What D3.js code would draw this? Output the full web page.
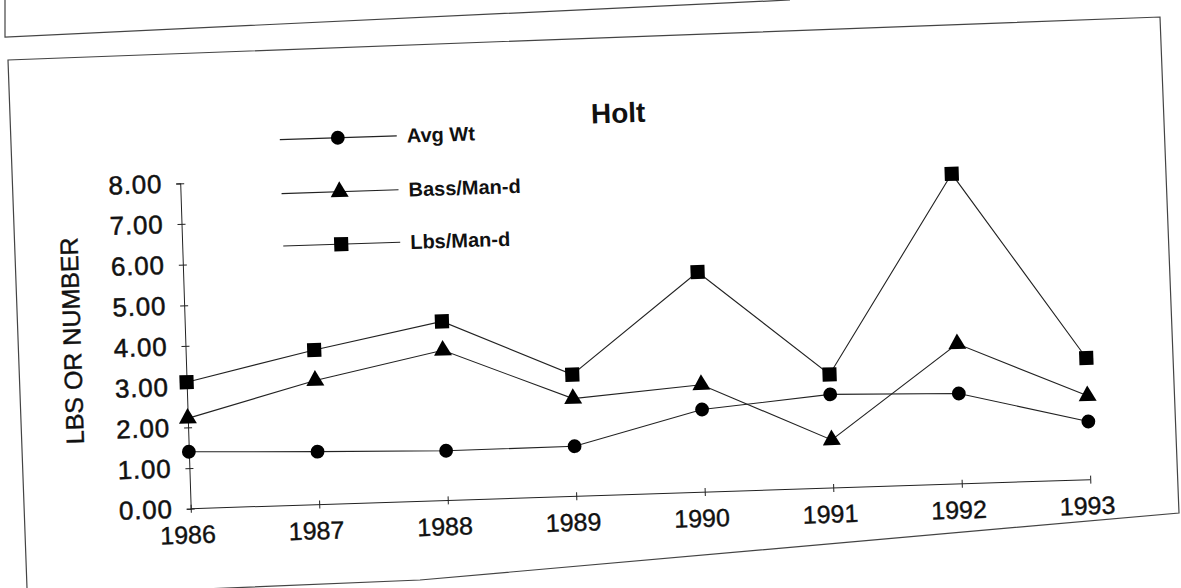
<!DOCTYPE html>
<html>
<head>
<meta charset="utf-8">
<script src="https://cdn.jsdelivr.net/npm/d3@7"></script>
<style>
  body { margin: 0; background: #fff; }
  text { font-family: "Liberation Sans", Arial, sans-serif; fill: #111; }
</style>
</head>
<body>
<div id="chart"></div>
<script>
// Data.
const years = [1986, 1987, 1988, 1989, 1990, 1991, 1992, 1993];
const avgWt = [1.40, 1.30, 1.22, 1.23, 2.03, 2.30, 2.22, 1.43];
const bassManD = [2.22, 3.05, 3.69, 2.40, 2.64, 1.18, 3.44, 2.06];
const lbsManD = [3.11, 3.80, 4.40, 2.99, 5.41, 2.79, 7.62, 2.99];
const yTicks = [0, 1, 2, 3, 4, 5, 6, 7, 8];
const seriesNames = ["Avg Wt", "Bass/Man-d", "Lbs/Man-d"];
const seriesShapes = [d3.symbolCircle, d3.symbolTriangle, d3.symbolSquare];
const seriesSizes = [150, 140, 200];

const width = 1181;
const height = 588;

const svg = d3.select("#chart")
  .append("svg")
  .attr("width", width)
  .attr("height", height);

// Page frames (the scan is slightly skewed).
svg.append("path")
  .attr("d", "M5,0 L5,37 L790,0")
  .attr("fill", "none").attr("stroke", "#444").attr("stroke-width", 1.2);
svg.append("path")
  .attr("d", "M27,588 L8,60 L1160,17 L1179,513 L420,580 L180,590")
  .attr("fill", "none").attr("stroke", "#444").attr("stroke-width", 1.2);

// Chart group, origin at the axis corner, rotated like the scan.
const g = svg.append("g")
  .attr("transform", "translate(190.7,508.7) rotate(-1.85)");

const x = d3.scalePoint()
  .domain(years)
  .range([0, 900]);

const y = d3.scaleLinear()
  .domain([0, 8])
  .range([0, -325.6]);

// Title.
g.append("text")
  .attr("x", 440)
  .attr("y", -372)
  .attr("text-anchor", "middle")
  .style("font-size", "28px")
  .style("font-weight", "bold")
  .text("Holt");

// Y axis.
const yAxis = g.append("g")
  .call(d3.axisLeft(y).tickValues(yTicks).tickSize(4).tickPadding(14)
    .tickFormat(d3.format(".2f")));
yAxis.select(".domain").attr("stroke", "#222");
yAxis.selectAll(".tick line").attr("x1", 4).attr("stroke", "#222");
yAxis.selectAll(".tick text")
  .style("font-size", "26px")
  .style("letter-spacing", "0.8px")
  .style("font-family", "\"Liberation Sans\", Arial, sans-serif")
  .attr("fill", "#111")
  .attr("stroke", "#111")
  .attr("stroke-width", 0.5);

// X axis.
const xAxis = g.append("g")
  .call(d3.axisBottom(x).tickSize(4).tickPadding(13));
xAxis.select(".domain").attr("d", "M0,0H900").attr("stroke", "#222");
xAxis.selectAll(".tick line").attr("y1", -4).attr("stroke", "#222");
xAxis.selectAll(".tick text")
  .attr("dx", -4)
  .style("font-size", "25px")
  .style("font-family", "\"Liberation Sans\", Arial, sans-serif")
  .attr("fill", "#111")
  .attr("stroke", "#111")
  .attr("stroke-width", 0.4);

// Y axis title.
g.append("text")
  .attr("transform", "translate(-104.5,-171.6) rotate(-90)")
  .attr("text-anchor", "middle")
  .attr("stroke", "#111")
  .attr("stroke-width", 0.4)
  .style("font-size", "25px")
  .text("LBS OR NUMBER");

// Series lines and markers.
const allSeries = [avgWt, bassManD, lbsManD];
const line = d3.line()
  .x(function(d, i) { return x(years[i]); })
  .y(function(d) { return y(d); });

allSeries.forEach(function(values, s) {
  g.append("path")
    .datum(values)
    .attr("fill", "none")
    .attr("stroke", "#222")
    .attr("stroke-width", 1.1)
    .attr("d", line);

  g.selectAll(".m" + s)
    .data(values)
    .enter()
    .append("path")
    .attr("class", "m" + s)
    .attr("transform", function(d, i) { return "translate(" + x(years[i]) + "," + y(d) + ")"; })
    .attr("d", d3.symbol().type(seriesShapes[s]).size(seriesSizes[s]))
    .attr("fill", "#000");
});

// Legend.
const legendY = [-366, -312, -259.5];
seriesNames.forEach(function(name, s) {
  const row = g.append("g").attr("transform", "translate(0," + legendY[s] + ")");
  row.append("line")
    .attr("x1", 101).attr("x2", 218)
    .attr("stroke", "#222").attr("stroke-width", 1.1);
  row.append("path")
    .attr("transform", "translate(159,0)")
    .attr("d", d3.symbol().type(seriesShapes[s]).size(seriesSizes[s]))
    .attr("fill", "#000");
  row.append("text")
    .attr("x", 228)
    .attr("y", 7)
    .style("font-size", "20px")
    .style("font-weight", "bold")
    .text(name);
});
</script>
</body>
</html>
